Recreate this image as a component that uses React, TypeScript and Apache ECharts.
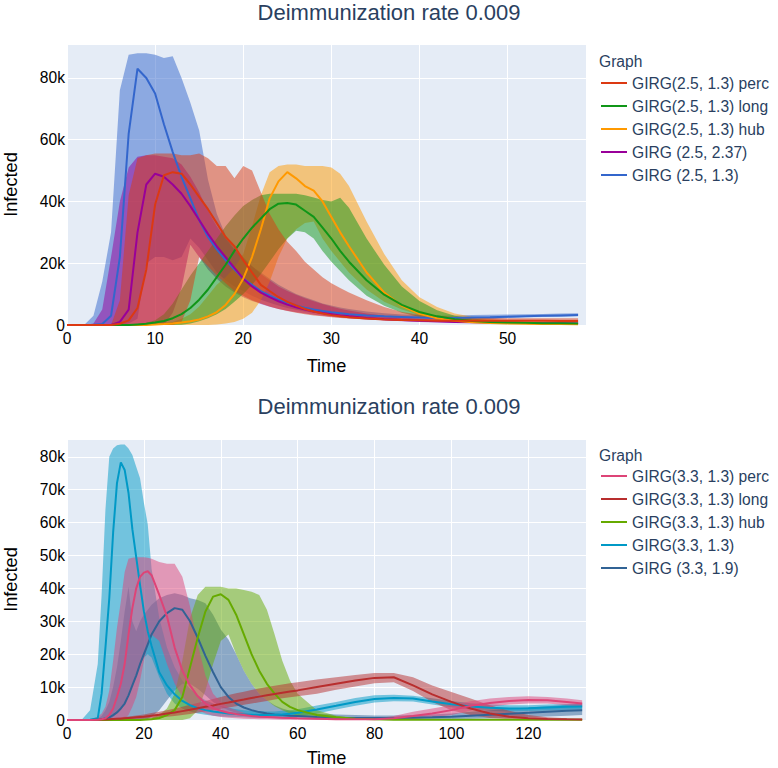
import React, { useEffect, useRef } from 'react';
import * as echarts from 'echarts';

const FONT = '"Liberation Sans", Arial, Helvetica, sans-serif';
const NAVY = '#2a3f5f';
const TITLE = 'Deimmunization rate 0.009';

// ---------- Top chart (GIRG 2.5) ----------
const TOP_TIME = [0,1,2,3,4,5,6,7,8,9,10,11,12,13,14,15,16,17,18,19,20,21,22,23,24,25,26,27,28,29,30,31,32,34,36,38,40,42,44,46,48,50,52,54,56,58];

const TOP_PERC_MEAN = [0,0,0,0,0,0,400,1500,5500,18000,39000,48500,49500,49000,45500,41500,37500,33000,28500,25500,21000,17000,13000,11000,9000,7500,6300,5200,4400,3700,3200,2800,2500,2100,1800,1600,1500,1400,1400,1400,1400,1400,1350,1350,1300,1300];
const TOP_PERC_HI = [0,0,0,0,0,0,8000,42000,54000,55000,55500,55500,55500,55000,55000,55500,54000,51500,51500,47500,51500,50000,43000,36000,31000,27000,24000,20500,18000,15500,13500,12000,10500,8000,5800,4200,3400,2900,2600,2400,2300,2200,2200,2200,2200,2200];
const TOP_PERC_LO = [0,0,0,0,0,0,0,0,0,0,0,0,0,1000,8000,22000,19000,16000,13500,11000,9500,8000,7000,6000,5200,4500,4000,3500,3100,2800,2500,2300,2100,1800,1600,1400,1300,1200,1100,1000,950,900,850,850,800,800];

const TOP_LONG_MEAN = [0,0,0,0,0,0,0,0,200,400,800,1300,2200,3500,5500,8200,11500,15500,19500,24000,28000,31500,34500,37500,39300,39500,39000,37000,35000,31500,28000,24000,20500,14500,9800,6500,4200,2800,1900,1300,1000,800,700,600,550,500];
const TOP_LONG_HI = [0,0,0,0,0,0,0,100,300,700,1500,3500,7000,11500,16000,20000,24000,28000,32000,35500,38500,40500,42000,42500,42500,42500,42500,42000,41300,40500,40000,41200,38000,28000,19500,12500,7800,4800,3000,2100,1500,1200,1000,850,750,650];
const TOP_LONG_LO = [0,0,0,0,0,0,0,0,0,0,0,0,0,100,500,1200,2200,3500,5200,7500,10000,13000,16500,20500,24500,28000,30500,30000,28000,24000,20500,17500,14500,9500,6200,4000,2600,1700,1100,800,600,450,350,300,250,200];

const TOP_HUB_MEAN = [0,0,0,0,0,0,0,0,0,0,200,300,500,800,1200,1800,2800,4200,6500,10000,15000,22000,31000,41000,46500,49500,47500,45000,43500,40000,35000,30000,25500,17000,10500,6200,3600,2200,1400,900,650,500,400,350,300,250];
const TOP_HUB_HI = [0,0,0,0,0,0,0,0,100,200,500,800,1000,2000,3500,6000,9500,13000,15500,18500,23000,32000,42000,49500,51500,52000,52000,51500,51500,51500,51000,49000,45000,33500,23000,14500,9000,5800,3700,2700,2000,1400,1000,800,650,550];
const TOP_HUB_LO = [0,0,0,0,0,0,0,0,0,0,0,0,0,0,0,0,0,200,500,1000,2000,4000,8000,14000,22000,28000,31000,33000,33500,28000,24000,20500,17000,11500,7500,5000,3200,2000,1300,700,500,380,300,250,200,150];

const TOP_G237_MEAN = [0,0,0,0,0,0,1000,5000,30000,45500,49000,48000,45500,42500,38500,34000,29500,25500,22000,18500,15000,12500,10500,9000,7700,6600,5700,5000,4400,3900,3500,3100,2800,2300,1900,1600,1400,1200,1000,900,800,700,650,600,550,500];
const TOP_G237_HI = [0,0,0,500,5000,22000,40000,51000,54500,55000,55000,54500,54000,52000,48000,43000,37000,32000,28000,24500,21500,19000,16500,14500,12500,11000,9800,8700,7700,6800,6000,5300,4700,3700,3000,2400,2000,1700,1500,1300,1200,1100,1000,950,900,850];
const TOP_G237_LO = [0,0,0,0,0,0,0,0,0,0,0,0,4000,12000,26000,22000,18000,15000,12500,10500,9000,7800,6800,5900,5200,4600,4100,3700,3300,3000,2700,2400,2200,1800,1500,1200,1000,850,750,650,550,500,450,400,380,350];

const TOP_G13_MEAN = [0,0,0,100,300,3000,22000,62000,83000,80000,75000,65000,56000,48000,41000,34000,28500,24500,21000,18000,15000,13000,11000,9500,8200,7200,6300,5600,5000,4500,4100,3800,3500,3100,2800,2600,2400,2300,2300,2400,2500,2700,2850,3000,3100,3200];
const TOP_G13_HI = [0,0,200,3000,14000,30000,76000,87500,88000,88000,87500,86500,87000,80000,72000,63000,47000,36000,29000,25000,22000,19000,17000,15000,13000,11500,10000,9000,8000,7000,6300,5700,5200,4400,3800,3400,3200,3100,3100,3200,3300,3400,3500,3600,3700,3800];
const TOP_G13_LO = [0,0,0,0,0,0,0,500,2000,20000,22000,22000,21000,22000,28000,25000,21000,17000,14500,12500,11000,9500,8200,7200,6300,5500,4900,4400,4000,3600,3300,3000,2800,2400,2100,1900,1800,1700,1700,1800,1900,2300,2500,2600,2700,2800];

// ---------- Bottom chart (GIRG 3.3) ----------
const BOT_TIME = [0,2,4,6,8,9,10,11,12,13,14,15,16,17,18,19,20,21,22,24,26,28,30,32,34,36,38,40,42,44,46,48,50,52,54,56,58,60,65,70,75,80,85,90,95,100,105,110,115,120,125,130,134];

const BOT_PERC_MEAN = [0,0,0,0,100,200,500,1500,3500,7000,11000,17000,26000,34000,40000,43500,44800,45200,44000,38000,31500,22000,15000,10500,7200,5000,3600,2800,2200,1800,1500,1200,1000,900,800,700,600,500,350,200,200,200,500,1200,2000,3000,4300,5200,5800,6100,6000,5500,5000];
const BOT_PERC_HI = [0,0,0,0,1000,2000,4000,9000,18000,28000,36000,45000,49000,49300,49500,49500,49500,49300,49000,48000,47500,47500,43500,34500,23000,13500,8000,5500,3800,3000,2200,1600,1200,1000,900,800,700,600,400,300,300,400,1200,2500,3500,4500,5700,6500,7000,7200,7000,6500,6000];
const BOT_PERC_LO = [0,0,0,0,0,0,0,0,0,0,0,500,1500,4000,7000,12000,18000,23000,26000,24000,17000,11000,7000,4500,3000,2000,1300,900,700,500,400,300,250,200,150,100,100,100,50,0,0,0,0,300,800,1500,2800,4000,4700,5000,5000,4500,4000];

const BOT_LONG_MEAN = [0,0,0,0,100,120,150,200,300,350,400,500,600,700,800,900,1000,1150,1300,1600,1950,2300,2700,3100,3550,4000,4400,4900,5300,5800,6200,6700,7100,7500,7900,8300,8650,9000,10000,11000,12000,12800,13000,10500,7800,5500,3500,2000,1000,500,300,200,150];
const BOT_LONG_HI = [0,0,0,0,300,350,400,500,600,700,800,950,1100,1250,1400,1550,1700,1900,2100,2500,3000,3500,4000,4600,5200,5800,6400,7000,7600,8100,8600,9100,9600,10000,10400,10800,11200,11500,12300,13000,13700,14300,14300,13000,10500,8500,6500,4500,2800,1500,800,500,400];
const BOT_LONG_LO = [0,0,0,0,0,0,0,0,0,50,100,120,150,200,250,300,350,420,500,700,950,1200,1500,1850,2200,2600,3000,3400,3800,4200,4600,5000,5400,5800,6200,6600,6900,7200,8000,9200,10200,11200,11500,8800,5500,3000,1500,600,200,100,50,0,0];

const BOT_HUB_MEAN = [0,0,0,0,0,0,0,0,0,0,0,0,0,0,0,0,100,150,200,600,1500,3000,7000,16000,25000,33000,37500,38200,36500,32000,26000,20000,15000,11000,8000,5500,4000,3000,1500,800,400,200,100,80,60,50,50,50,50,50,50,50,50];
const BOT_HUB_HI = [0,0,0,0,0,0,0,0,0,0,0,0,0,100,200,300,400,500,700,1500,3500,8000,18000,31000,38000,40500,40500,40500,40000,40000,39500,39000,38000,33500,26000,18000,12000,8000,3000,1300,600,300,150,150,150,150,150,150,150,150,150,150,150];
const BOT_HUB_LO = [0,0,0,0,0,0,0,0,0,0,0,0,0,0,0,0,0,0,0,0,0,0,0,500,3000,9000,17000,24000,26000,20000,15000,11000,8000,6000,4200,3000,2000,1300,500,200,50,0,0,0,0,0,0,0,0,0,0,0,0];

const BOT_G13_MEAN = [0,0,0,100,500,8000,22000,37000,57000,72000,78300,76000,69000,58000,49500,41000,33000,27000,22500,14500,10500,7800,5800,4500,3600,3000,2600,2300,2000,1800,1700,1600,1500,1500,1600,1700,1900,2200,3200,4300,5500,6400,6700,6500,5600,4800,4100,3700,3500,3600,3800,4000,4100];
const BOT_G13_HI = [0,0,300,3000,17000,38000,64000,80000,82500,83500,83700,83700,82500,80500,77000,73500,66000,59500,46000,31000,22000,16000,12000,9500,7500,6000,5000,4200,3700,3300,3000,2800,2700,2600,2600,2800,3000,3300,4400,5500,6700,7500,7700,7400,6600,5800,5100,4700,4500,4500,4700,4900,5000];
const BOT_G13_LO = [0,0,0,0,0,0,0,200,800,2000,3500,5500,8000,11000,14000,17000,19000,20000,19000,13000,8000,5000,3500,2600,2000,1600,1300,1100,1000,900,800,700,700,700,700,800,900,1100,2000,3200,4300,5300,5700,5600,4700,3900,3200,2800,2600,2700,2900,3100,3200];

const BOT_G19_MEAN = [0,0,0,0,100,200,500,800,1500,2300,3500,5000,7500,10500,13500,17000,20000,23000,26000,30000,32500,34000,33500,30000,25000,19500,14500,10000,7000,5000,3800,3000,2400,2000,1700,1500,1300,1200,900,700,600,600,600,700,800,1000,1300,1600,1900,2200,2500,2800,3000];
const BOT_G19_HI = [0,0,0,0,500,1200,3000,5500,10000,16000,24000,33000,40500,30000,27000,30000,32000,33500,35000,37000,38000,38500,38000,37000,36500,35500,32000,27500,24500,20000,15000,11000,8000,6000,4500,3500,2800,2500,2000,1700,1500,1400,1400,1500,1700,2000,2500,3000,3400,3800,4200,4600,5000];
const BOT_G19_LO = [0,0,0,0,0,0,0,0,0,0,0,0,0,0,0,0,0,300,1000,3000,6000,9000,11000,11000,9500,7500,5500,4000,3000,2200,1600,1200,900,700,550,450,350,300,200,150,100,100,100,150,200,300,400,500,700,900,1100,1300,1500];

// legend order (as in the reference)
const TOP_LEGEND = ['GIRG(2.5, 1.3) perc', 'GIRG(2.5, 1.3) long', 'GIRG(2.5, 1.3) hub', 'GIRG (2.5, 2.37)', 'GIRG (2.5, 1.3)'];
const BOT_LEGEND = ['GIRG(3.3, 1.3) perc', 'GIRG(3.3, 1.3) long', 'GIRG(3.3, 1.3) hub', 'GIRG(3.3, 1.3)', 'GIRG (3.3, 1.9)'];

type Grp = { name: string; color: string; mean: number[]; lo: number[]; hi: number[] };

// drawing order (bottom layer first)
const TOP_GROUPS: Grp[] = [
  { name: TOP_LEGEND[4], color: '#3366CC', mean: TOP_G13_MEAN, lo: TOP_G13_LO, hi: TOP_G13_HI },
  { name: TOP_LEGEND[3], color: '#990099', mean: TOP_G237_MEAN, lo: TOP_G237_LO, hi: TOP_G237_HI },
  { name: TOP_LEGEND[2], color: '#FF9900', mean: TOP_HUB_MEAN, lo: TOP_HUB_LO, hi: TOP_HUB_HI },
  { name: TOP_LEGEND[1], color: '#109618', mean: TOP_LONG_MEAN, lo: TOP_LONG_LO, hi: TOP_LONG_HI },
  { name: TOP_LEGEND[0], color: '#DC3912', mean: TOP_PERC_MEAN, lo: TOP_PERC_LO, hi: TOP_PERC_HI },
];
const BOT_GROUPS: Grp[] = [
  { name: BOT_LEGEND[4], color: '#316395', mean: BOT_G19_MEAN, lo: BOT_G19_LO, hi: BOT_G19_HI },
  { name: BOT_LEGEND[3], color: '#0099C6', mean: BOT_G13_MEAN, lo: BOT_G13_LO, hi: BOT_G13_HI },
  { name: BOT_LEGEND[2], color: '#66AA00', mean: BOT_HUB_MEAN, lo: BOT_HUB_LO, hi: BOT_HUB_HI },
  { name: BOT_LEGEND[1], color: '#B82E2E', mean: BOT_LONG_MEAN, lo: BOT_LONG_LO, hi: BOT_LONG_HI },
  { name: BOT_LEGEND[0], color: '#DD4477', mean: BOT_PERC_MEAN, lo: BOT_PERC_LO, hi: BOT_PERC_HI },
];

function hexA(hex: string, a: number) {
  const r = parseInt(hex.slice(1, 3), 16), g = parseInt(hex.slice(3, 5), 16), b = parseInt(hex.slice(5, 7), 16);
  return `rgba(${r},${g},${b},${a})`;
}

function buildSeries(groups: Grp[], time: number[], idx: number) {
  const out: any[] = [];
  groups.forEach((g) => {
    const data = time.map((t, i) => [t, g.lo[i], g.hi[i]]);
    out.push({
      type: 'custom',
      name: g.name + ' band',
      xAxisIndex: idx,
      yAxisIndex: idx,
      silent: true,
      clip: true,
      encode: { x: 0, y: [1, 2] },
      data,
      renderItem: (params: any, api: any) => {
        if (params.dataIndex !== 0) return null;
        const pts: number[][] = [];
        for (let i = 0; i < data.length; i++) pts.push(api.coord([data[i][0], data[i][2]]));
        for (let i = data.length - 1; i >= 0; i--) pts.push(api.coord([data[i][0], data[i][1]]));
        return {
          type: 'polygon',
          shape: { points: pts },
          style: { fill: hexA(g.color, 0.5), stroke: 'none' },
        };
      },
    });
    out.push({
      type: 'line',
      name: g.name,
      xAxisIndex: idx,
      yAxisIndex: idx,
      data: time.map((t, i) => [t, g.mean[i]]),
      symbol: 'none',
      showSymbol: false,
      silent: true,
      clip: true,
      lineStyle: { color: g.color, width: 2 },
      itemStyle: { color: g.color },
    });
  });
  return out;
}

const kFmt = (v: number) => (v === 0 ? '0' : `${v / 1000}k`);

function xAxis(idx: number, max: number, interval: number, nameGap: number) {
  return {
    type: 'value', gridIndex: idx, min: 0, max, interval,
    axisLine: { show: false }, axisTick: { show: false },
    splitLine: { show: true, lineStyle: { color: '#ffffff', width: 1 } },
    axisLabel: { showMaxLabel: false, margin: 5, fontSize: 15.6, color: '#000', fontFamily: FONT },
    name: 'Time', nameLocation: 'middle', nameGap,
    nameTextStyle: { fontSize: 18.2, color: '#000', fontFamily: FONT },
  };
}
function yAxis(idx: number, max: number, interval: number) {
  return {
    type: 'value', gridIndex: idx, min: 0, max, interval,
    axisLine: { show: false }, axisTick: { show: false },
    splitLine: { show: true, lineStyle: { color: '#ffffff', width: 1 } },
    axisLabel: { showMaxLabel: false, margin: 2, fontSize: 15.6, color: '#000', fontFamily: FONT, formatter: kFmt },
    name: 'Infected', nameLocation: 'middle', nameGap: 47,
    nameTextStyle: { fontSize: 18.2, color: '#000', fontFamily: FONT },
  };
}
function legend(names: string[], top: number) {
  return {
    data: names, orient: 'vertical', left: 601, top, padding: 0,
    icon: 'rect', itemWidth: 26, itemHeight: 2, itemGap: 7,
    selectedMode: false,
    textStyle: { fontSize: 15.6, color: NAVY, fontFamily: FONT, lineHeight: 15 },
  };
}

export default function App() {
  const ref = useRef<HTMLDivElement>(null);
  useEffect(() => {
    if (!ref.current) return;
    const chart = echarts.init(ref.current, null, { renderer: 'svg' });
    const titleStyle = { fontSize: 22, fontWeight: 'normal', color: NAVY, fontFamily: FONT };
    const legTitle = { fontSize: 15.6, fontWeight: 'normal', color: NAVY, fontFamily: FONT };
    const gridBase = { left: 67, width: 519, height: 281, show: true, backgroundColor: '#E5ECF6', borderWidth: 0, containLabel: false, outerBoundsMode: 'none' };
    chart.setOption({
      animation: false,
      textStyle: { fontFamily: FONT },
      title: [
        { text: TITLE, left: 'center', top: 1, padding: 0, textStyle: titleStyle },
        { text: TITLE, left: 'center', top: 395, padding: 0, textStyle: titleStyle },
        { text: 'Graph', left: 599, top: 53, padding: 0, textStyle: legTitle },
        { text: 'Graph', left: 599, top: 447, padding: 0, textStyle: legTitle },
      ],
      legend: [legend(TOP_LEGEND, 75), legend(BOT_LEGEND, 468)],
      grid: [
        { ...gridBase, top: 44 },
        { ...gridBase, top: 439 },
      ],
      xAxis: [xAxis(0, 58.9, 10, 32), xAxis(1, 135, 20, 29)],
      yAxis: [yAxis(0, 91000, 20000), yAxis(1, 85400, 10000)],
      series: [...buildSeries(TOP_GROUPS, TOP_TIME, 0), ...buildSeries(BOT_GROUPS, BOT_TIME, 1)],
    });
    return () => chart.dispose();
  }, []);
  return <div ref={ref} style={{ position: 'absolute', left: 0, top: 0, width: 778, height: 768 }} />;
}
